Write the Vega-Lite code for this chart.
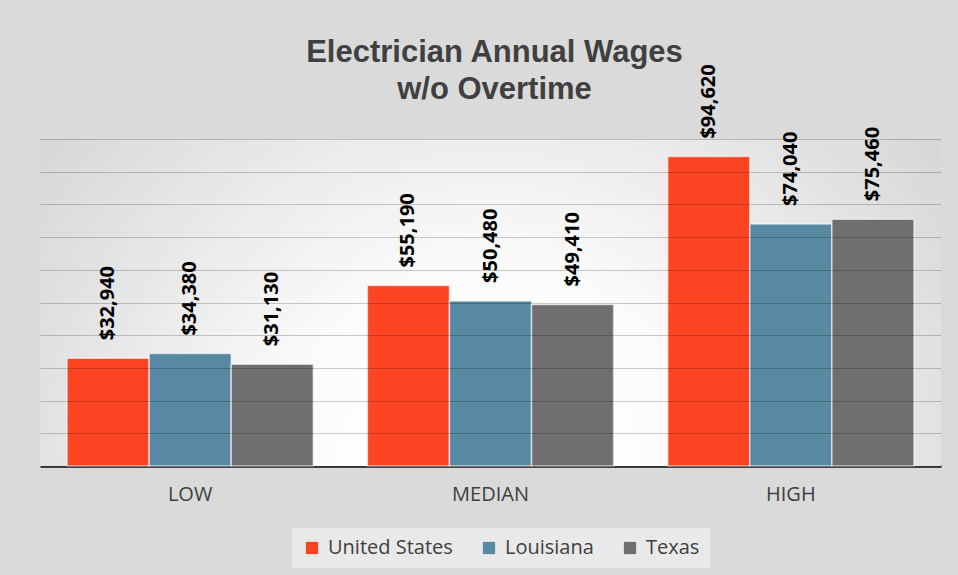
{
  "$schema": "https://vega.github.io/schema/vega-lite/v6.json",
  "width": 901,
  "height": 327,
  "autosize": {"type": "none"},
  "padding": {"left": 40, "top": 139, "right": 17, "bottom": 109},
  "background": "#dadada",
  "title": {
    "text": ["Electrician Annual Wages", "w/o Overtime"],
    "font": "Liberation Sans",
    "fontSize": 31,
    "fontWeight": "bold",
    "color": "#404040",
    "anchor": "middle",
    "lineHeight": 37,
    "offset": 39,
    "dy": 81,
    "dx": 4
  },
  "config": {
    "view": {"stroke": null},
    "font": "Open Sans"
  },
  "layer": [
    {
      "data": {"values": [{"k": 1}]},
      "mark": {
        "type": "rect",
        "color": {
          "gradient": "radial",
          "x1": 0.5, "y1": 0.7, "r1": 0,
          "x2": 0.5, "y2": 0.7, "r2": 0.75,
          "stops": [
            {"offset": 0, "color": "#ffffff"},
            {"offset": 0.3, "color": "#fcfcfc"},
            {"offset": 1, "color": "#cbcbcb"}
          ]
        }
      },
      "encoding": {}
    },
    {
      "data": {"name": "wages", "values": [
        {"level": "LOW", "region": "United States", "wage": 32940},
        {"level": "LOW", "region": "Louisiana", "wage": 34380},
        {"level": "LOW", "region": "Texas", "wage": 31130},
        {"level": "MEDIAN", "region": "United States", "wage": 55190},
        {"level": "MEDIAN", "region": "Louisiana", "wage": 50480},
        {"level": "MEDIAN", "region": "Texas", "wage": 49410},
        {"level": "HIGH", "region": "United States", "wage": 94620},
        {"level": "HIGH", "region": "Louisiana", "wage": 74040},
        {"level": "HIGH", "region": "Texas", "wage": 75460}
      ]},
      "layer": [
        {
          "mark": {"type": "bar", "stroke": "#ffffff", "strokeOpacity": 0.6, "strokeWidth": 1.5},
          "encoding": {
            "x": {
              "field": "level", "type": "nominal",
              "sort": ["LOW", "MEDIAN", "HIGH"],
              "scale": {"paddingInner": 0.18, "paddingOuter": 0.09},
              "axis": {
                "title": null, "labelAngle": 0, "ticks": false,
                "labelFont": "Open Sans", "labelFontSize": 20, "labelColor": "#404040",
                "labelPadding": 18, "domainColor": "#404040", "domainWidth": 3, "grid": false
              }
            },
            "xOffset": {
              "field": "region", "type": "nominal",
              "sort": ["United States", "Louisiana", "Texas"],
              "scale": {"paddingInner": 0, "paddingOuter": 0}
            },
            "y": {
              "field": "wage", "type": "quantitative",
              "scale": {"domain": [0, 100000], "nice": false},
              "axis": {
                "title": null, "labels": false, "ticks": false, "domain": false,
                "labelOverlap": false,
                "grid": true, "gridColor": "#000000", "gridOpacity": 0.2,
                "tickCount": 10,
                "zindex": 1
              }
            },
            "color": {
              "field": "region", "type": "nominal",
              "sort": ["United States", "Louisiana", "Texas"],
              "scale": {"domain": ["United States", "Louisiana", "Texas"], "range": ["#fd4422", "#5789a3", "#6f6f6f"]},
              "legend": {
                "title": null, "orient": "none", "legendX": 252, "legendY": 389,
                "direction": "horizontal", "symbolType": "square", "symbolSize": 150,
                "symbolStrokeWidth": 0, "symbolOpacity": 1,
                "labelFont": "Open Sans", "labelFontSize": 20, "labelColor": "#404040",
                "labelOffset": 6, "columnPadding": 26, "fillColor": "#e9e9e9", "padding": 10
              }
            }
          }
        },
        {
          "mark": {
            "type": "text", "angle": 270, "align": "left", "baseline": "middle",
            "dx": 18, "font": "Open Sans", "fontWeight": "bold", "fontSize": 20, "color": "#000000"
          },
          "encoding": {
            "x": {"field": "level", "type": "nominal", "sort": ["LOW", "MEDIAN", "HIGH"]},
            "xOffset": {"field": "region", "type": "nominal", "sort": ["United States", "Louisiana", "Texas"]},
            "y": {"field": "wage", "type": "quantitative"},
            "text": {"field": "wage", "type": "quantitative", "format": "$,.0f"}
          }
        }
      ]
    }
  ]
}
